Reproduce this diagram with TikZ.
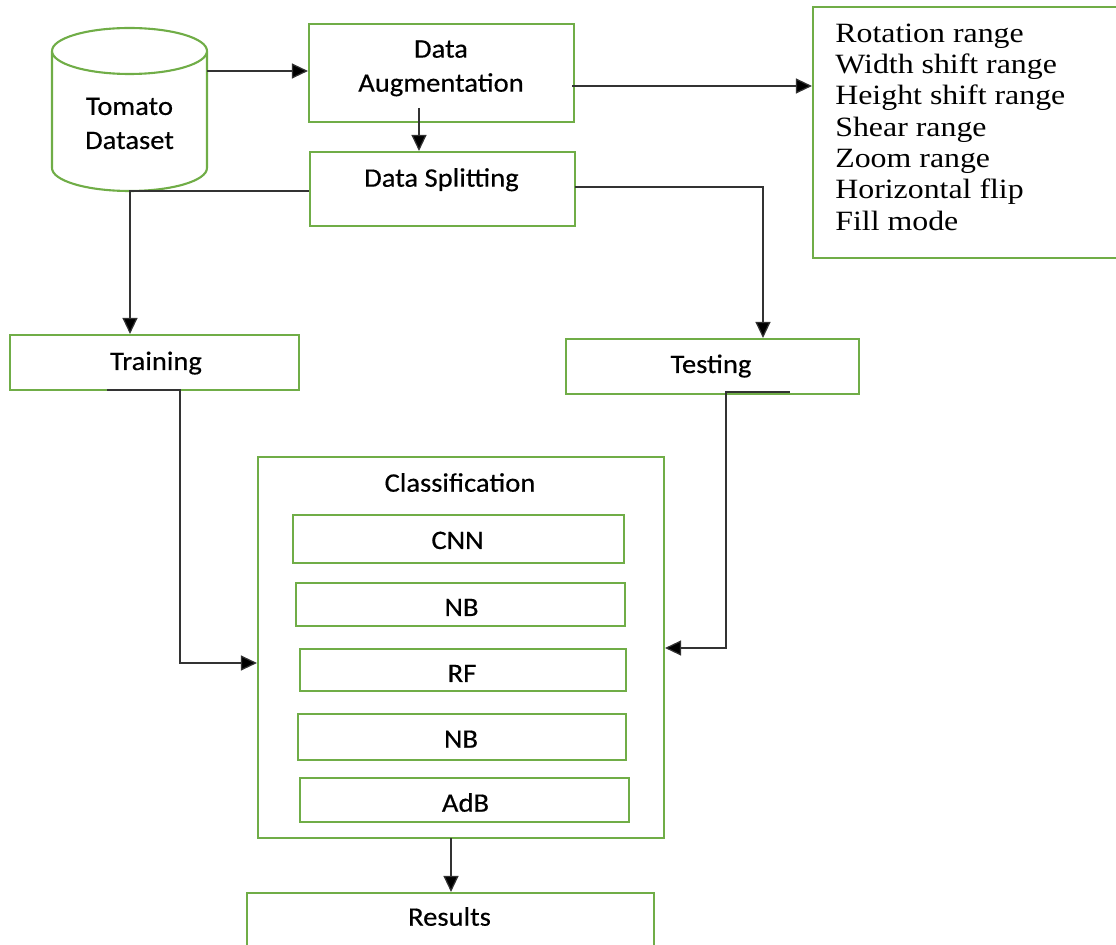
\documentclass[tikz,border=0pt]{standalone}
\usepackage{fontspec}
\setmainfont{Carlito}[FakeStretch=1.07, FakeBold=0.4]
\newfontfamily\paramfont{Liberation Serif}[FakeStretch=1.14]
\usetikzlibrary{arrows.meta,fit}
\definecolor{boxgreen}{HTML}{70AD47}
\definecolor{wire}{HTML}{333333}

\begin{document}
\begin{tikzpicture}[x=0.02cm,y=-0.02cm,
  box/.style={draw=boxgreen, line width=1.2pt, inner sep=0pt},
  txt/.style={font=\fontsize{15.2}{19.9}\selectfont, anchor=base, inner sep=0pt, align=center},
  ptxt/.style={font=\paramfont\fontsize{15.9}{17.5}\selectfont, anchor=base west, inner sep=0pt},
  wireline/.style={draw=wire, line width=0.7pt},
  arr/.style={wireline, -{Triangle[length=0.32cm,width=0.3cm,fill=black]}}]

\useasboundingbox (0,0) rectangle (1116,945);

% database cylinder
\draw[boxgreen, line width=1.2pt]
  (52,51) -- (52,168) arc[start angle=180, end angle=360, x radius=1.55cm, y radius=0.46cm]
  -- (207,51) arc[start angle=0, end angle=180, x radius=1.55cm, y radius=0.46cm]
  arc[start angle=180, end angle=360, x radius=1.55cm, y radius=0.46cm];
\node[txt] (tomato) at (129.5,149) {Tomato\\[-0.5pt]Dataset};
\coordinate (cylR) at (207,71);
\coordinate (cylB) at (130,191);

% pipeline boxes
\node[box, fit={(309,24) (574,122)}] (aug) {};
\node[box, fit={(310,152) (575,226)}] (split) {};
\node[box, fit={(813,7) (1130,258)}] (params) {};
\node[box, fit={(10,335) (299,390)}] (train) {};
\node[box, fit={(566,339) (859,394)}] (test) {};
\node[box, fit={(258,457) (664,838)}] (cls) {};
\node[box, fit={(293,515) (624,563)}] (cnn) {};
\node[box, fit={(296,583) (625,626)}] (nbA) {};
\node[box, fit={(300,649) (626,691)}] (rf) {};
\node[box, fit={(298,714) (626,760)}] (nbB) {};
\node[box, fit={(300,778) (629,822)}] (adb) {};
\node[box, fit={(247,893) (654,970)}] (res) {};

% labels
\node[txt] (augT) at (441,91.7) {Data\\[-0.5pt]Augmentation};
\node[txt] (splitT) at (441.5,186.7) {Data Splitting};
\node[txt] (trainT) at (156,370) {Training};
\node[txt] (testT) at (711,373) {Testing};
\node[txt] (clsT) at (460,491.7) {Classification};
\node[txt] (cnnT) at (457.5,549) {CNN};
\node[txt] (nbAT) at (461.5,616) {NB};
\node[txt] (rfT) at (462,682) {RF};
\node[txt] (nbBT) at (461,747.7) {NB};
\node[txt] (adbT) at (465.5,811.7) {AdB};
\node[txt] (resT) at (449.5,925.7) {Results};

% augmentation parameters
\foreach \t [count=\i from 0] in {Rotation range, Width shift range, Height shift range,
    Shear range, Zoom range, Horizontal flip, Fill mode}
  \node[ptxt] (par\i) at (835,42.3+31.3*\i) {\t};

% connectors
\coordinate (augIn) at (419,108);
\coordinate (augR) at (572,86);
\coordinate (splitR) at (575,187);
\coordinate (trainB) at (107,390);
\coordinate (testB) at (790,392);
\coordinate (clsB) at (451,838);

\draw[arr] (cylR) -- (aug.west |- cylR);
\draw[arr] (augIn) -- (split.north -| augIn);
\draw[arr] (augR) -- (params.west |- augR);
\draw[arr] (split.west |- cylB) -- (cylB) -- (train.north -| cylB);
\draw[arr] (splitR) -- (763,187) -- (test.north -| 763,0);
\draw[arr] (trainB) -- (180,390) -- (180,663) -- (cls.west |- 0,663);
\draw[arr] (testB) -- (726,392) -- (726,648) -- (cls.east |- 0,648);
\draw[arr] (clsB) -- (res.north -| clsB);
\end{tikzpicture}
\end{document}
